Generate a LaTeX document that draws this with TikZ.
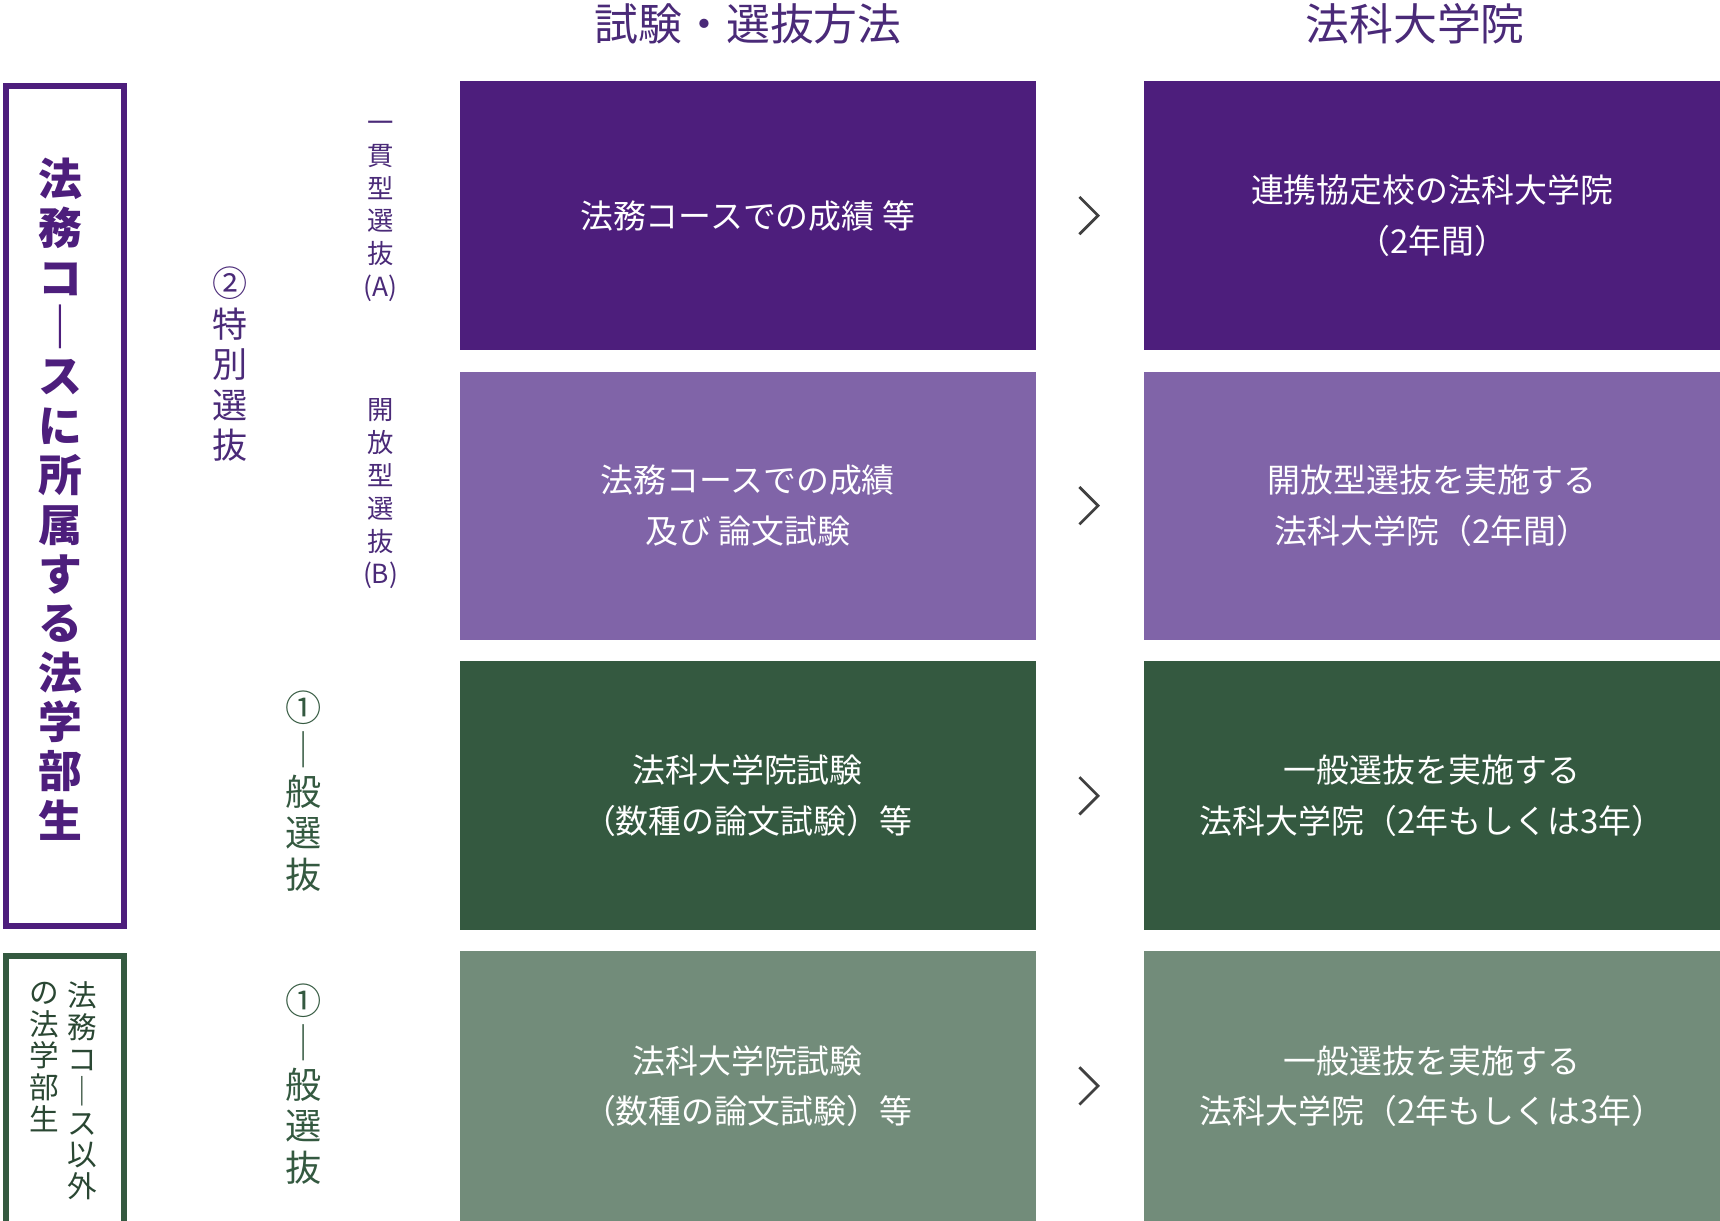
\documentclass[tikz,border=0pt]{standalone}
\usepackage{fontspec}
\setmainfont{Noto Sans CJK JP}
\newfontfamily\jpb[BoldFont={Noto Sans CJK JP Bold}]{Noto Sans CJK JP}
\definecolor{dp}{HTML}{4D1E7C}
\definecolor{lp}{HTML}{8064A8}
\definecolor{dg}{HTML}{345940}
\definecolor{lg}{HTML}{728C7A}
\definecolor{hd}{HTML}{4A2A78}
\begin{document}
\begin{tikzpicture}[x=1pt,y=-1pt,
  cell/.style={inner sep=0pt,text=white,font=\fontsize{30}{46}\selectfont,align=center},
  vtext/.style={inner sep=0pt,align=center},
  chev/.style={draw=black!75,line width=2.5pt}]
\useasboundingbox (0,0) rectangle (1568,1113);
\node[font=\fontsize{40}{40}\selectfont,text=hd] (h1) at (682,22) {試験・選抜方法};
\node[font=\fontsize{40}{40}\selectfont,text=hd] (h2) at (1290,22) {法科大学院};
% left boxes
\draw[dp,line width=5pt] (5.5,78.5) rectangle (113,844);
\node[vtext,text=dp,font=\bfseries\fontsize{40}{45}\selectfont] (l1) at (55,455) {法\\務\\コ\\｜\\ス\\に\\所\\属\\す\\る\\法\\学\\部\\生};
\draw[dg,line width=5pt] (5.5,871.5) rectangle (113,1120);
\node[vtext,text=dg!80!black,font=\fontsize{27}{29}\selectfont,anchor=north] (l2a) at (75,895) {法\\務\\コ\\｜\\ス\\以\\外};
\node[vtext,text=dg!80!black,font=\fontsize{27}{29}\selectfont,anchor=north] (l2b) at (40,895) {の\\法\\学\\部\\生};
% selection labels
\node[vtext,text=hd,font=\fontsize{32}{37}\selectfont,anchor=north] (s2) at (210,243) {②\\特\\別\\選\\抜};
\node[vtext,text=hd,font=\fontsize{24}{30}\selectfont,anchor=north] (sa) at (347,110) {一\\貫\\型\\選\\抜\\(A)};
\node[vtext,text=hd,font=\fontsize{24}{30}\selectfont,anchor=north] (sb) at (347,363) {開\\放\\型\\選\\抜\\(B)};
\node[vtext,text=dg,font=\fontsize{33}{38}\selectfont,anchor=north] (s1) at (277,630) {①\\｜\\般\\選\\抜};
\node[vtext,text=dg,font=\fontsize{33}{38}\selectfont,anchor=north] (s1b) at (277,897) {①\\｜\\般\\選\\抜};
% rows
\foreach \i/\t/\b/\c/\m/\r in {
 a/74/319/dp/{法務コースでの成績 等}/{連携協定校の法科大学院\\（2年間）},
 b/339/583/lp/{法務コースでの成績\\及び 論文試験}/{開放型選抜を実施する\\法科大学院（2年間）},
 c/603/848/dg/{法科大学院試験\\（数種の論文試験）等}/{一般選抜を実施する\\法科大学院（2年もしくは3年）},
 d/867/1113/lg/{法科大学院試験\\（数種の論文試験）等}/{一般選抜を実施する\\法科大学院（2年もしくは3年）}}{
  \fill[\c] (419,\t) rectangle (944,\b);
  \fill[\c] (1043,\t) rectangle (1568,\b);
  \node[cell] (m\i) at (681.5,{(\t+\b)/2}) {\m};
  \node[cell] (r\i) at (1305.5,{(\t+\b)/2}) {\r};
  \coordinate (c\i) at (993,{(\t+\b)/2});
  \draw[chev] ([shift={(-9,-17)}]c\i) -- ([shift={(8,0)}]c\i) -- ([shift={(-9,17)}]c\i);
}
\end{tikzpicture}
\end{document}
